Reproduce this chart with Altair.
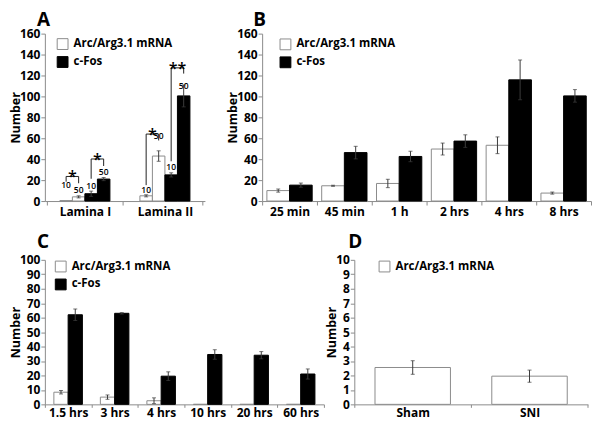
import altair as alt
import pandas as pd

FONT = "Open Sans"
AXIS_GREY = "#8c8c8c"
OUTLINE_GREY = "#8c8c8c"
ERR_GREY = "#3c3c3c"
MRNA = "Arc/Arg3.1 mRNA"
FOS = "c-Fos"

# ---------------- data ----------------
# Panel A
a_categories = ["Lamina I", "Lamina II"]
a_subgroups = ["mRNA-10", "mRNA-50", "cFos-10", "cFos-50"]
a_sub_series = [MRNA, MRNA, FOS, FOS]
a_sub_doses = ["10", "50", "10", "50"]
a_lamina1_values = [0.4, 4.0, 7.0, 21.0]
a_lamina1_errors = [0.0, 1.0, 2.5, 1.5]
a_lamina2_values = [5.0, 43.0, 25.0, 100.5]
a_lamina2_errors = [1.0, 5.0, 2.0, 10.5]
a_lamina1_dose_label_y = [15.8, 10.7, 14.6, 28.0]
a_lamina2_dose_label_y = [10.7, 62.4, 32.6, 109.7]
a_bracket_category = ["Lamina I", "Lamina I", "Lamina II", "Lamina II"]
a_bracket_from = ["mRNA-10", "cFos-10", "mRNA-10", "cFos-10"]
a_bracket_to = ["mRNA-50", "cFos-50", "mRNA-50", "cFos-50"]
a_bracket_top = [23.5, 40.2, 64.0, 127.3]
a_bracket_from_end = [18.5, 21.3, 15.2, 38.0]
a_bracket_to_end = [17.0, 33.5, 57.9, 121.8]
a_bracket_stars = ["*", "*", "*", "**"]

# Panel B
b_times = ["25 min", "45 min", "1 h", "2 hrs", "4 hrs", "8 hrs"]
b_mrna = [10.0, 14.6, 16.8, 49.7, 53.3, 7.6]
b_mrna_err = [1.5, 0.5, 4.0, 5.7, 8.0, 1.0]
b_fos = [15.2, 46.3, 42.6, 57.3, 115.8, 100.5]
b_fos_err = [2.0, 6.0, 5.0, 6.0, 19.0, 6.0]

# Panel C
c_times = ["1.5 hrs", "3 hrs", "4 hrs", "10 hrs", "20 hrs", "60 hrs"]
c_mrna = [8.4, 5.0, 2.5, 0.0, 0.0, 0.0]
c_mrna_err = [1.2, 1.5, 2.0, 0.0, 0.0, 0.0]
c_fos = [62.0, 63.0, 19.5, 34.5, 34.0, 21.0]
c_fos_err = [4.0, 0.5, 3.0, 3.3, 2.5, 3.5]

# Panel D
d_groups = ["Sham", "SNI"]
d_mrna = [2.55, 1.95]
d_mrna_err = [0.47, 0.42]

# y axis ticks
ab_ticks = list(range(0, 161, 20))
c_ticks = list(range(0, 101, 10))
d_ticks = list(range(0, 11, 1))

# ---------------- layout ----------------
W_A, W_B, W_C, W_D = 160.6, 330.0, 280.0, 234.4
H_TOP, H_BOT = 168.0, 145.0
GAP_AB, GAP_CD, GAP_ROWS = 57.0, 30.5, 14.0


def grouped_rows(categories, subs, series, values_by_sub, errors_by_sub):
    rows = []
    for sub, ser, vals, errs in zip(subs, series, values_by_sub, errors_by_sub):
        for cat, v, e in zip(categories, vals, errs):
            rows.append(dict(cat=cat, sub=sub, series=ser, value=v, err=e,
                             lo=v - e, hi=v + e))
    return pd.DataFrame(rows)


def axis_x(label_pad, tick_size):
    return alt.Axis(title=None, labelAngle=0, tickBand="extent", tickSize=tick_size,
                    labelPadding=label_pad, domainColor=AXIS_GREY, tickColor=AXIS_GREY,
                    labelFont=FONT, labelFontSize=12, labelFontWeight="bold",
                    labelColor="black", grid=False)


def axis_y(values):
    return alt.Axis(title="Number", values=values, grid=False, tickSize=4,
                    labelPadding=1, titlePadding=-3, domainColor=AXIS_GREY,
                    tickColor=AXIS_GREY, labelFont=FONT, labelFontSize=12,
                    labelFontWeight="bold", labelColor="black", titleFont=FONT,
                    titleFontSize=12.5, titleFontWeight="bold", titleColor="black")


def panel(df, cats, subs, domain, fills, strokes, y_max, y_values, width, height,
          x_pad, off_pad, legend_x, legend_y, label_pad, tick_size, letter, letter_dx,
          letter_offset, extra=None):
    xs = alt.Scale(domain=cats, paddingInner=x_pad, paddingOuter=x_pad / 2)
    xax = axis_x(label_pad, tick_size)
    ys = alt.Scale(domain=[0, y_max], nice=False, zero=True)
    yax = axis_y(y_values)
    offs = alt.Scale(domain=subs, paddingInner=0, paddingOuter=off_pad)

    def X():
        return alt.X("cat:N", sort=cats, scale=xs, axis=xax)

    def XO(field="sub"):
        return alt.XOffset(f"{field}:N", sort=subs, scale=offs)

    leg = alt.Legend(title=None, orient="none", legendX=legend_x, legendY=legend_y,
                     symbolType="square", symbolSize=118, symbolStrokeWidth=1,
                     labelFont=FONT, labelFontSize=11.5, labelFontWeight="bold",
                     labelColor="black", labelOffset=5, rowPadding=2, padding=0)

    bars = alt.Chart(df).mark_bar(strokeWidth=1).encode(
        x=X(), xOffset=XO(),
        y=alt.Y("value:Q", scale=ys, axis=yax),
        fill=alt.Fill("series:N", scale=alt.Scale(domain=domain, range=fills), legend=leg),
        stroke=alt.Stroke("series:N", scale=alt.Scale(domain=domain, range=strokes), legend=leg),
    )
    eb = alt.Chart(df).transform_filter("datum.err > 0")
    rule = eb.mark_rule(color=ERR_GREY, strokeWidth=1).encode(
        x=X(), xOffset=XO(), y=alt.Y("lo:Q", scale=ys, axis=yax), y2="hi:Q")
    cap_hi = eb.mark_tick(orient="horizontal", size=4, thickness=1, color=ERR_GREY).encode(
        x=X(), xOffset=XO(), y=alt.Y("hi:Q", scale=ys, axis=yax))
    cap_lo = eb.mark_tick(orient="horizontal", size=4, thickness=1, color=ERR_GREY).encode(
        x=X(), xOffset=XO(), y=alt.Y("lo:Q", scale=ys, axis=yax))
    layers = [bars, rule, cap_hi, cap_lo]
    if extra is not None:
        step = width / len(cats)
        band = step * (1 - x_pad)
        off_step = band / (len(subs) + 2 * off_pad)
        layers += extra(X, XO, ys, yax, off_step)
    return alt.layer(*layers).properties(
        width=width, height=height,
        title=alt.TitleParams(letter, anchor="start", frame="group", dx=letter_dx,
                              offset=letter_offset, fontSize=19, font=FONT,
                              fontWeight="bold", color="black", baseline="alphabetic"),
    )


# ---- Panel A ----
a_df = grouped_rows(a_categories, a_subgroups, a_sub_series,
                    [[a_lamina1_values[i], a_lamina2_values[i]] for i in range(4)],
                    [[a_lamina1_errors[i], a_lamina2_errors[i]] for i in range(4)])
a_lbl = pd.DataFrame(
    [dict(cat=a_categories[0], sub=s, dose=d, ly=y)
     for s, d, y in zip(a_subgroups, a_sub_doses, a_lamina1_dose_label_y)]
    + [dict(cat=a_categories[1], sub=s, dose=d, ly=y)
       for s, d, y in zip(a_subgroups, a_sub_doses, a_lamina2_dose_label_y)])
br_rows = []
for k in range(len(a_bracket_category)):
    cat = a_bracket_category[k]
    pts = [(a_bracket_from[k], a_bracket_from_end[k]), (a_bracket_from[k], a_bracket_top[k]),
           (a_bracket_to[k], a_bracket_top[k]), (a_bracket_to[k], a_bracket_to_end[k])]
    for j, (s, yv) in enumerate(pts):
        br_rows.append(dict(br=k, cat=cat, sub=s, by=yv, step=j))
a_br = pd.DataFrame(br_rows)
a_star = pd.DataFrame(dict(cat=a_bracket_category, sub=a_bracket_from,
                           top=a_bracket_top, star=a_bracket_stars))


def a_extra(X, XO, ys, yax, off_step):
    labels = alt.Chart(a_lbl).mark_text(font=FONT, fontSize=8.5, fontWeight=600,
                                         baseline="middle", color="black").encode(
        x=X(), xOffset=XO(), y=alt.Y("ly:Q", scale=ys, axis=yax), text="dose:N")
    brackets = alt.Chart(a_br).mark_line(color="#222222", strokeWidth=1).encode(
        x=X(), xOffset=XO(), y=alt.Y("by:Q", scale=ys, axis=yax),
        detail="br:N", order="step:Q")
    stars = alt.Chart(a_star).mark_text(font=FONT, fontSize=16, fontWeight=600,
                                        baseline="alphabetic", dy=6, dx=off_step / 2,
                                        color="black").encode(
        x=X(), xOffset=XO(), y=alt.Y("top:Q", scale=ys, axis=yax), text="star:N")
    return [labels, brackets, stars]


two_dom = [MRNA, FOS]
two_fill = ["#ffffff", "#000000"]
two_stroke = [OUTLINE_GREY, "#000000"]

chart_a = panel(a_df, a_categories, a_subgroups, two_dom, two_fill, two_stroke, 160,
                ab_ticks, W_A, H_TOP, 0.062, 1.0, 11.8, 4.5, 2, 4, "A", -8, -17.6,
                extra=a_extra)

# ---- Panel B ----
b_df = grouped_rows(b_times, ["m", "f"], [MRNA, FOS], [b_mrna, b_fos], [b_mrna_err, b_fos_err])
chart_b = panel(b_df, b_times, ["m", "f"], two_dom, two_fill, two_stroke, 160,
                ab_ticks, W_B, H_TOP, 0.0, 0.21, 17.4, 4.8, 1.5, 4, "B", -9, -17.6)

# ---- Panel C ----
c_df = grouped_rows(c_times, ["m", "f"], [MRNA, FOS], [c_mrna, c_fos], [c_mrna_err, c_fos_err])
chart_c = panel(c_df, c_times, ["m", "f"], two_dom, two_fill, two_stroke, 100,
                c_ticks, W_C, H_BOT, 0.0, 0.63, 9.9, 0.7, 0, 3, "C", -8, -13.6)

# ---- Panel D ----
d_df = grouped_rows(d_groups, ["m"], [MRNA], [d_mrna], [d_mrna_err])
chart_d = panel(d_df, d_groups, ["m"], [MRNA], ["#ffffff"], [OUTLINE_GREY], 10,
                d_ticks, W_D, H_BOT, 0.0, 0.274, 24.3, 0.7, 0, 3, "D", -6, -13.6)

res = dict(x="independent", y="independent", xOffset="independent",
           fill="independent", stroke="independent")
row1 = alt.hconcat(chart_a, chart_b, spacing=GAP_AB, bounds="flush").resolve_scale(**res)
row2 = alt.hconcat(chart_c, chart_d, spacing=GAP_CD, bounds="flush").resolve_scale(**res)
chart = alt.vconcat(row1, row2, spacing=GAP_ROWS).resolve_scale(**res)
chart = chart.properties(padding={"left": 0, "top": 2, "right": 0, "bottom": 0},
                         background="white").configure_view(stroke="transparent")

chart.save("out.html", embed_options={"renderer": "svg", "actions": False})
